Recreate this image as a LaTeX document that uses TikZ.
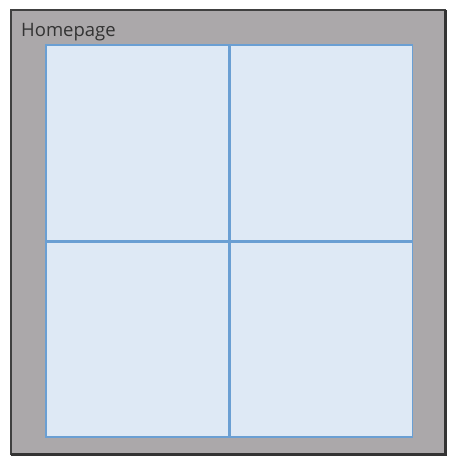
\documentclass[tikz,border=0pt]{standalone}
\usepackage{fontspec}
\setmainfont{Open Sans}
\definecolor{framegray}{HTML}{ABA8AA}
\definecolor{edgedark}{HTML}{404040}
\definecolor{cellfill}{HTML}{DEE9F5}
\definecolor{cellline}{HTML}{6A9FD3}
\begin{document}
\begin{tikzpicture}[x=1pt,y=-1pt,
  divider/.style={draw=cellline,line width=3pt},
  titletext/.style={anchor=base west,inner sep=0pt,font=\fontsize{18.5}{20}\selectfont,text=black!80}]
\useasboundingbox[fill=white] (0,0) rectangle (449,459);
% outer frame
\fill[framegray] (11,10) rectangle (446,455);
\draw[edgedark,line width=2pt] (11,455) -- (11,10) -- (446,10);
\draw[edgedark!80!black,line width=3pt] (11,454) -- (445,454) -- (445,10);
\node[titletext] (title) at (21,36) {Homepage};
% grid
\coordinate (tl) at (46,45);
\coordinate (br) at (412.5,437);
\coordinate (vt) at (229.5,45);
\coordinate (vb) at (229.5,437);
\coordinate (hl) at (46,241.5);
\coordinate (hr) at (412.5,241.5);
\fill[cellfill] (tl) rectangle (br);
\draw[cellline,line width=1.6pt] (tl) rectangle (br);
\draw[divider] (vt) -- (vb);
\draw[divider] (hl) -- (hr);
\end{tikzpicture}
\end{document}
